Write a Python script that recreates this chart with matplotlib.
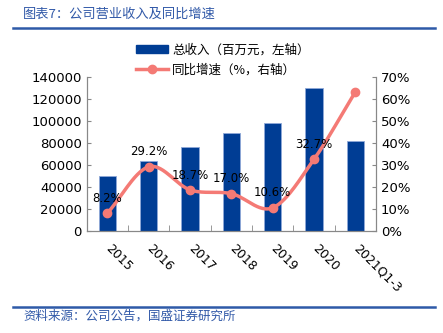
import numpy as np
import matplotlib
matplotlib.use('Agg')
import matplotlib.pyplot as plt
from matplotlib.lines import Line2D

plt.rcParams['font.family'] = ['DejaVu Sans', 'Noto Sans CJK SC']

# data
years = ['2015', '2016', '2017', '2018', '2019', '2020', '2021Q1-3']
revenue = [50000, 64000, 76000, 89000, 98000, 130000, 82000]
growth = [8.2, 29.2, 18.7, 17.0, 10.6, 32.7, 63.3]
growth_labels = ['8.2%', '29.2%', '18.7%', '17.0%', '10.6%', '32.7%', '']

bar_color = '#003D94'
line_color = '#F47A75'
text_blue = '#3159A8'
cjk = ['Noto Sans CJK SC', 'DejaVu Sans']


def smooth(xs, ys, n=30):
    # Catmull-Rom style smoothing, like the smoothed line in the original
    xs = np.asarray(xs, float)
    ys = np.asarray(ys, float)
    px = np.concatenate([[2 * xs[0] - xs[1]], xs, [2 * xs[-1] - xs[-2]]])
    py = np.concatenate([[2 * ys[0] - ys[1]], ys, [2 * ys[-1] - ys[-2]]])
    out_x, out_y = [], []
    t = np.linspace(0, 1, n)
    for i in range(1, len(px) - 2):
        for p, out in ((px, out_x), (py, out_y)):
            p0, p1, p2, p3 = p[i - 1], p[i], p[i + 1], p[i + 2]
            out.extend(0.5 * ((2 * p1) + (-p0 + p2) * t
                              + (2 * p0 - 5 * p1 + 4 * p2 - p3) * t ** 2
                              + (-p0 + 3 * p1 - 3 * p2 + p3) * t ** 3))
    return np.array(out_x), np.array(out_y)


fig = plt.figure(figsize=(4.43, 3.33), dpi=100)
ax = fig.add_axes([0.196, 0.306, 0.653, 0.463])
ax2 = ax.twinx()

x = np.arange(len(years))
ax.bar(x, revenue, width=0.42, color=bar_color, edgecolor='#8FA8D8', linewidth=0.6, zorder=2)
ax.set_ylim(0, 140000)
ax.set_yticks(range(0, 140001, 20000))
ax.set_xlim(-0.5, len(years) - 0.5)
ax.set_xticks(x)
ax.set_xticklabels(years, rotation=-45, ha='left', va='center', rotation_mode='anchor', fontsize=9)
ax.tick_params(axis='x', length=0, pad=11)
ax.set_xticks(np.arange(-0.5, len(years), 1), minor=True)
ax.tick_params(axis='x', which='minor', direction='in', length=4, color='#888888')
ax.tick_params(axis='y', direction='in', length=3, color='#888888', labelsize=9.5)

sx, sy = smooth(x, growth)
ax2.plot(sx, sy, color=line_color, lw=2.5, zorder=3)
ax2.plot(x, growth, 'o', color=line_color, ms=6, zorder=4)
ax2.set_ylim(0, 70)
ax2.set_yticks(range(0, 71, 10))
ax2.set_yticklabels([f'{v}%' for v in range(0, 71, 10)])
ax2.tick_params(axis='y', direction='in', length=3, color='#888888', labelsize=9.5)

for xi, g, lab in zip(x, growth, growth_labels):
    if lab:
        ax2.annotate(lab, (xi, g), xytext=(0, 6), textcoords='offset points',
                     ha='center', va='bottom', fontsize=8.5)

for a in (ax, ax2):
    a.spines['top'].set_visible(False)
    for s in ('left', 'right', 'bottom'):
        a.spines[s].set_color('#888888')
        a.spines[s].set_linewidth(0.8)

handles = [plt.Rectangle((0, 0), 1, 1, color=bar_color),
           Line2D([0], [0], color=line_color, lw=2.5, marker='o', ms=6)]
fig.legend(handles, ['总收入（百万元，左轴）', '同比增速（%，右轴）'],
           loc='upper left', bbox_to_anchor=(0.295, 0.885), frameon=False,
           prop={'family': cjk, 'size': 9}, handlelength=2.6, handletextpad=0.3,
           labelspacing=0.55, borderaxespad=0)

# header and footer
fig.text(0.052, 0.958, '图表7：公司营业收入及同比增速', color=text_blue,
         fontsize=9.5, family=cjk, style='italic', va='center')
fig.add_artist(Line2D([0.03, 0.982], [0.915, 0.915], color='#2E5AA8', lw=1.8))
fig.add_artist(Line2D([0.03, 0.982], [0.078, 0.078], color='#2E5AA8', lw=1.8))
fig.text(0.052, 0.05, '资料来源：公司公告，国盛证券研究所', color=text_blue,
         fontsize=9, family=cjk, style='italic', va='center')

fig.savefig('out.png', dpi=100)
